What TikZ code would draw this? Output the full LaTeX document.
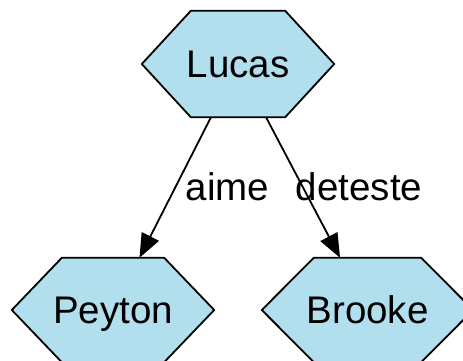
\documentclass[tikz,border=0pt]{standalone}
\usepackage{fontspec}
\setmainfont{Liberation Sans}
\usetikzlibrary{arrows.meta}
\pgfdeclarelayer{background}
\pgfsetlayers{background,main}
\definecolor{hexfill}{HTML}{B2DFEE}
\tikzset{
  hexnode/.style={inner sep=0pt, font=\fontsize{38.5}{46}\selectfont, text height=27.6pt, text depth=0pt},
  hexshape/.style={draw=black, fill=hexfill, line width=1.8pt, line join=miter},
  edgelbl/.style={inner sep=0pt, anchor=base, font=\fontsize{38.5}{46}\selectfont},
  conn/.style={draw=black, line width=1.8pt, -{Triangle[length=24pt,width=19pt]}},
}
\newcommand{\hexdraw}[2]{%
  \draw[hexshape] (#1.west) -- ([xshift=#2]#1.north west) -- ([xshift=-#2]#1.north east)
    -- (#1.east) -- ([xshift=-#2]#1.south east) -- ([xshift=#2]#1.south west) -- cycle;}
\begin{document}
\begin{tikzpicture}[x=1pt,y=-1pt]
  \useasboundingbox (0,0) rectangle (463,360);
  \node[hexnode, minimum width=192pt, minimum height=106pt] (lucas) at (238,64) {Lucas};
  \node[hexnode, minimum width=202pt, minimum height=104pt] (peyton) at (113,310) {Peyton};
  \node[hexnode, minimum width=211pt, minimum height=104pt] (brooke) at (367.5,310) {Brooke};
  \begin{pgfonlayer}{background}
    \hexdraw{lucas}{49pt}
    \hexdraw{peyton}{50pt}
    \hexdraw{brooke}{52pt}
  \end{pgfonlayer}
  \draw[conn] (lucas) -- (peyton);
  \draw[conn] (lucas) -- (brooke);
  \node[edgelbl] (laime) at (227.5,200) {aime};
  \node[edgelbl] (ldeteste) at (359,200) {deteste};
\end{tikzpicture}
\end{document}
